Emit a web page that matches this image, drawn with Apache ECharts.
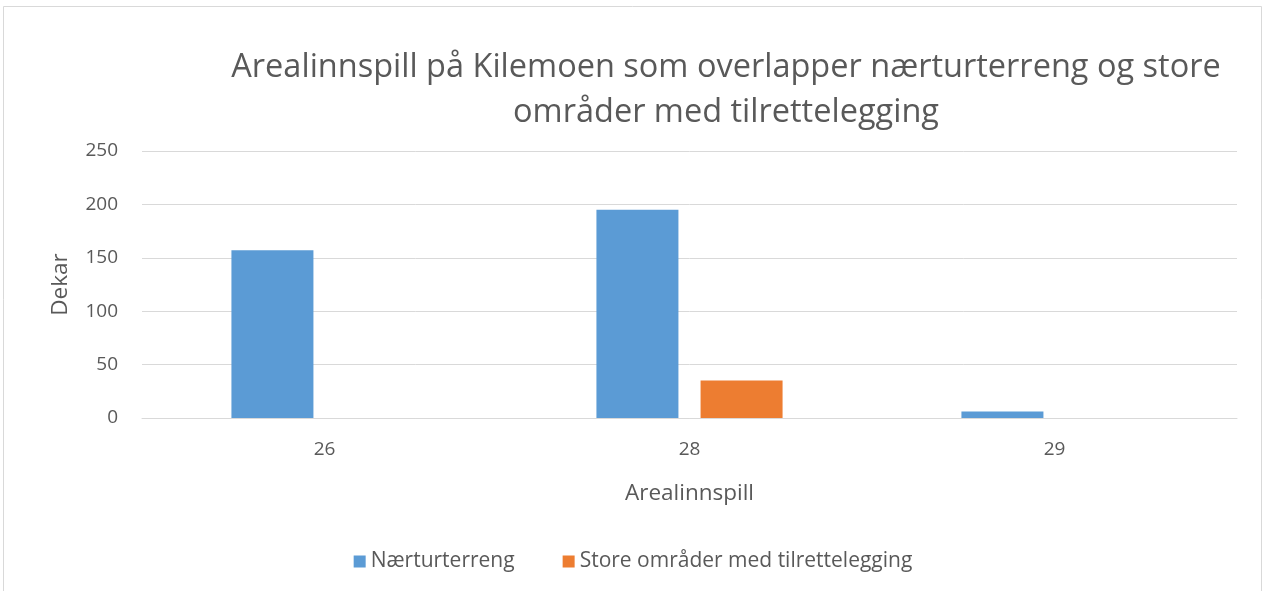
<!DOCTYPE html>
<html>
<head>
<meta charset="utf-8">
<script src="https://cdn.jsdelivr.net/npm/echarts@6/dist/echarts.min.js"></script>
<style>
html,body{margin:0;padding:0;background:#fff;}
#chart1{width:1266px;height:591px;}
</style>
</head>
<body>
<div id="chart1"></div>
<script>
var categories = ['26', '28', '29'];
var naerturterreng = [157, 195, 6];
var storeOmrader = [0, 35, 0];
var yTicks = [0, 50, 100, 150, 200, 250];

var Chart1 = echarts.init(document.getElementById('chart1'));
var txt = '#595959';
var font = '"Open Sans", "Noto Sans", sans-serif';
var option1 = {
    backgroundColor: '#fff',
    textStyle: { fontFamily: font },
    graphic: [{
        type: 'rect',
        shape: { x: 3.5, y: 6.5, width: 1258, height: 600 },
        style: { fill: 'none', stroke: '#d9d9d9', lineWidth: 1 },
        silent: true
    }],
    title: {
        text: 'Arealinnspill på Kilemoen som overlapper nærturterreng og store\nområder med tilrettelegging',
        left: 721,
        top: 40,
        textAlign: 'center',
        textStyle: { fontSize: 32.5, fontWeight: 'normal', color: txt, lineHeight: 45, fontFamily: font }
    },
    legend: {
        bottom: 14,
        left: 'center',
        itemWidth: 12,
        itemHeight: 12,
        itemGap: 48,
        icon: 'rect',
        textStyle: { fontSize: 21, color: txt },
        data: ['Nærturterreng', 'Store områder med tilrettelegging']
    },
    grid: { left: 142, right: 29, top: 151, bottom: 173, containLabel: false },
    xAxis: {
        type: 'category',
        data: categories,
        name: 'Arealinnspill',
        nameLocation: 'middle',
        nameGap: 64,
        nameTextStyle: { fontSize: 22.5, color: txt },
        axisLine: { lineStyle: { color: '#d9d9d9', width: 1 } },
        axisTick: { show: false },
        axisLabel: { fontSize: 19, color: txt, margin: 22 }
    },
    yAxis: {
        type: 'value',
        min: yTicks[0],
        max: yTicks[yTicks.length - 1],
        interval: 50,
        name: 'Dekar',
        nameLocation: 'middle',
        nameRotate: 90,
        nameGap: 70,
        nameTextStyle: { fontSize: 22.5, color: txt },
        axisLine: { show: false },
        axisTick: { show: false },
        axisLabel: { fontSize: 19, color: txt, margin: 24 },
        splitLine: { lineStyle: { color: '#d9d9d9', width: 1 } }
    },
    series: [
        {
            name: 'Nærturterreng',
            type: 'bar',
            barWidth: 82,
            barGap: '27%',
            itemStyle: { color: '#5b9bd5' },
            data: naerturterreng
        },
        {
            name: 'Store områder med tilrettelegging',
            type: 'bar',
            barWidth: 82,
            barGap: '27%',
            itemStyle: { color: '#ed7d31' },
            data: storeOmrader
        }
    ]
};
Chart1.setOption(option1);

window.onresize = function () {
    Chart1.resize();
};
</script>
</body>
</html>
